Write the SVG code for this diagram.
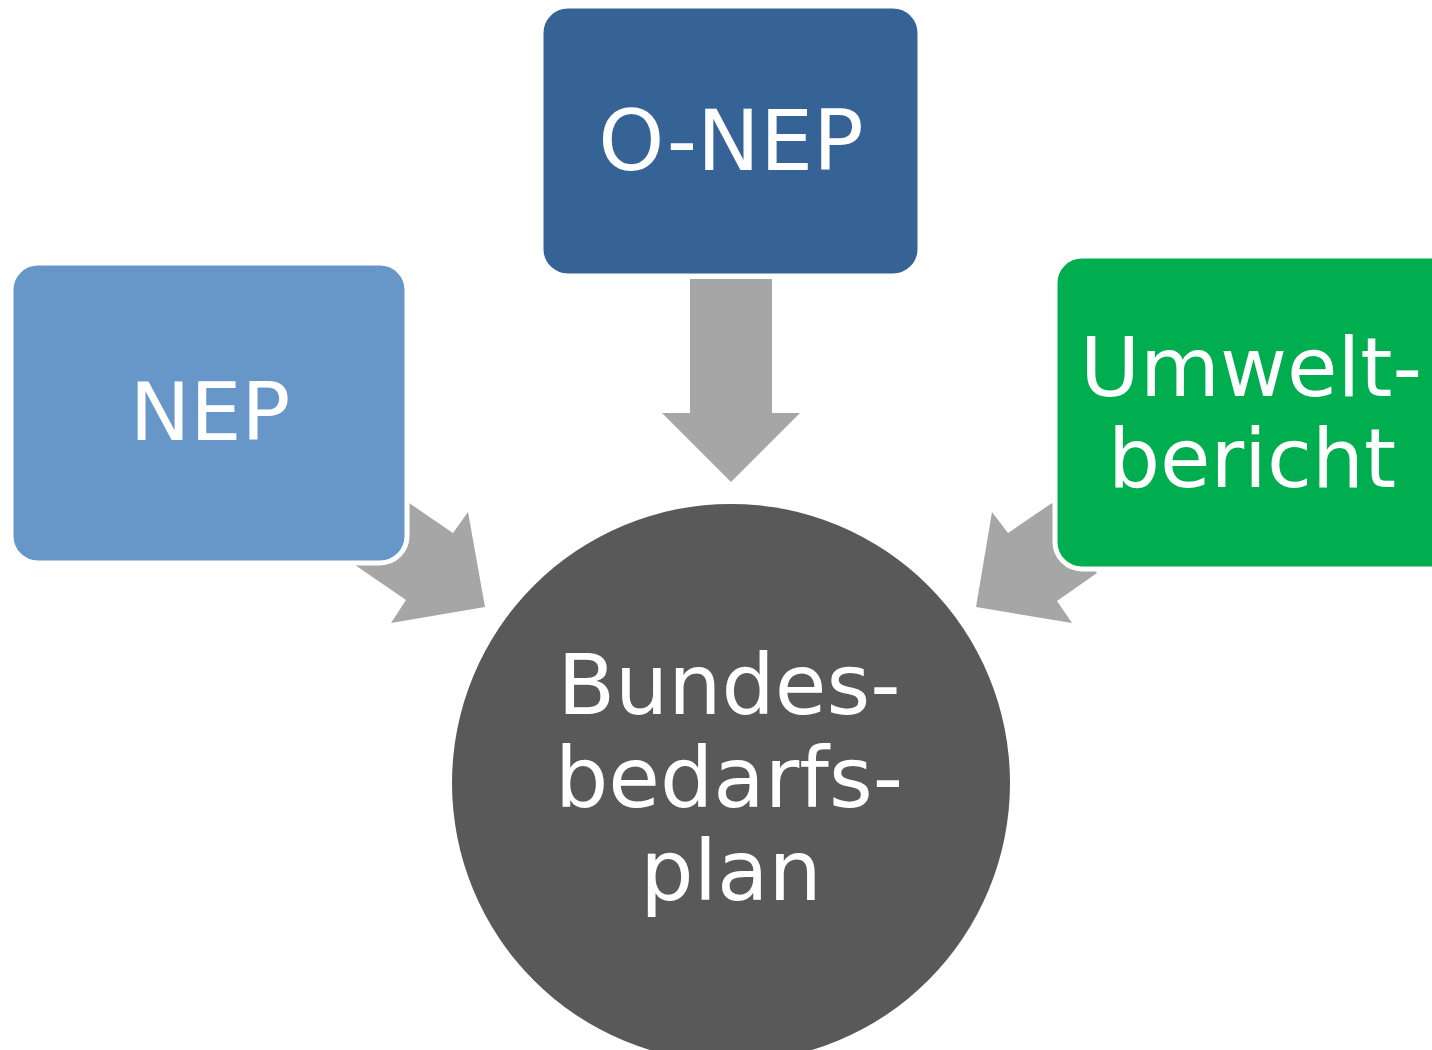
<svg xmlns="http://www.w3.org/2000/svg" width="1432" height="1050" viewBox="0 0 1432 1050">
<style>
.arrow{fill:#A6A6A6}
.box{stroke:#FFFFFF;stroke-width:5}
.t{font-family:"DejaVu Sans",sans-serif;fill:#FFFFFF;text-anchor:middle;font-size:84px}
</style>
<rect width="1432" height="1050" fill="#FFFFFF"/>
<g id="connectors">
<polygon class="arrow" points="690,279 772,279 772,413 800,413 731,482 662,413 690,413"/>
<polygon class="arrow" points="409,503 453,533 468,512 485,607 391,623 406,600 355,565"/>
<polygon class="arrow" points="1052,503 1008,533 992,512 976,607 1072,623 1057,601 1097,573"/>
</g>
<g id="nep">
<rect class="box" x="11" y="263" width="396" height="300" rx="27" fill="#6797C9"/>
<text class="t" x="210" y="440" style="font-size:81px">NEP</text>
</g>
<g id="onep">
<rect class="box" x="541" y="6" width="379" height="270" rx="27" fill="#366395"/>
<text class="t" x="731" y="170">O-NEP</text>
</g>
<g id="umwelt">
<rect class="box" x="1055" y="256" width="420" height="313" rx="27" fill="#00AE50"/>
<text class="t" x="1251" y="396" style="font-size:82px">Umwelt-</text>
<text class="t" x="1252" y="487" style="font-size:82px">bericht</text>
</g>
<g id="bundesbedarfsplan">
<circle cx="731" cy="783" r="279" fill="#595959"/>
<text class="t" x="729" y="714">Bundes-</text>
<text class="t" x="729" y="807">bedarfs-</text>
<text class="t" x="731" y="900">plan</text>
</g>
</svg>
